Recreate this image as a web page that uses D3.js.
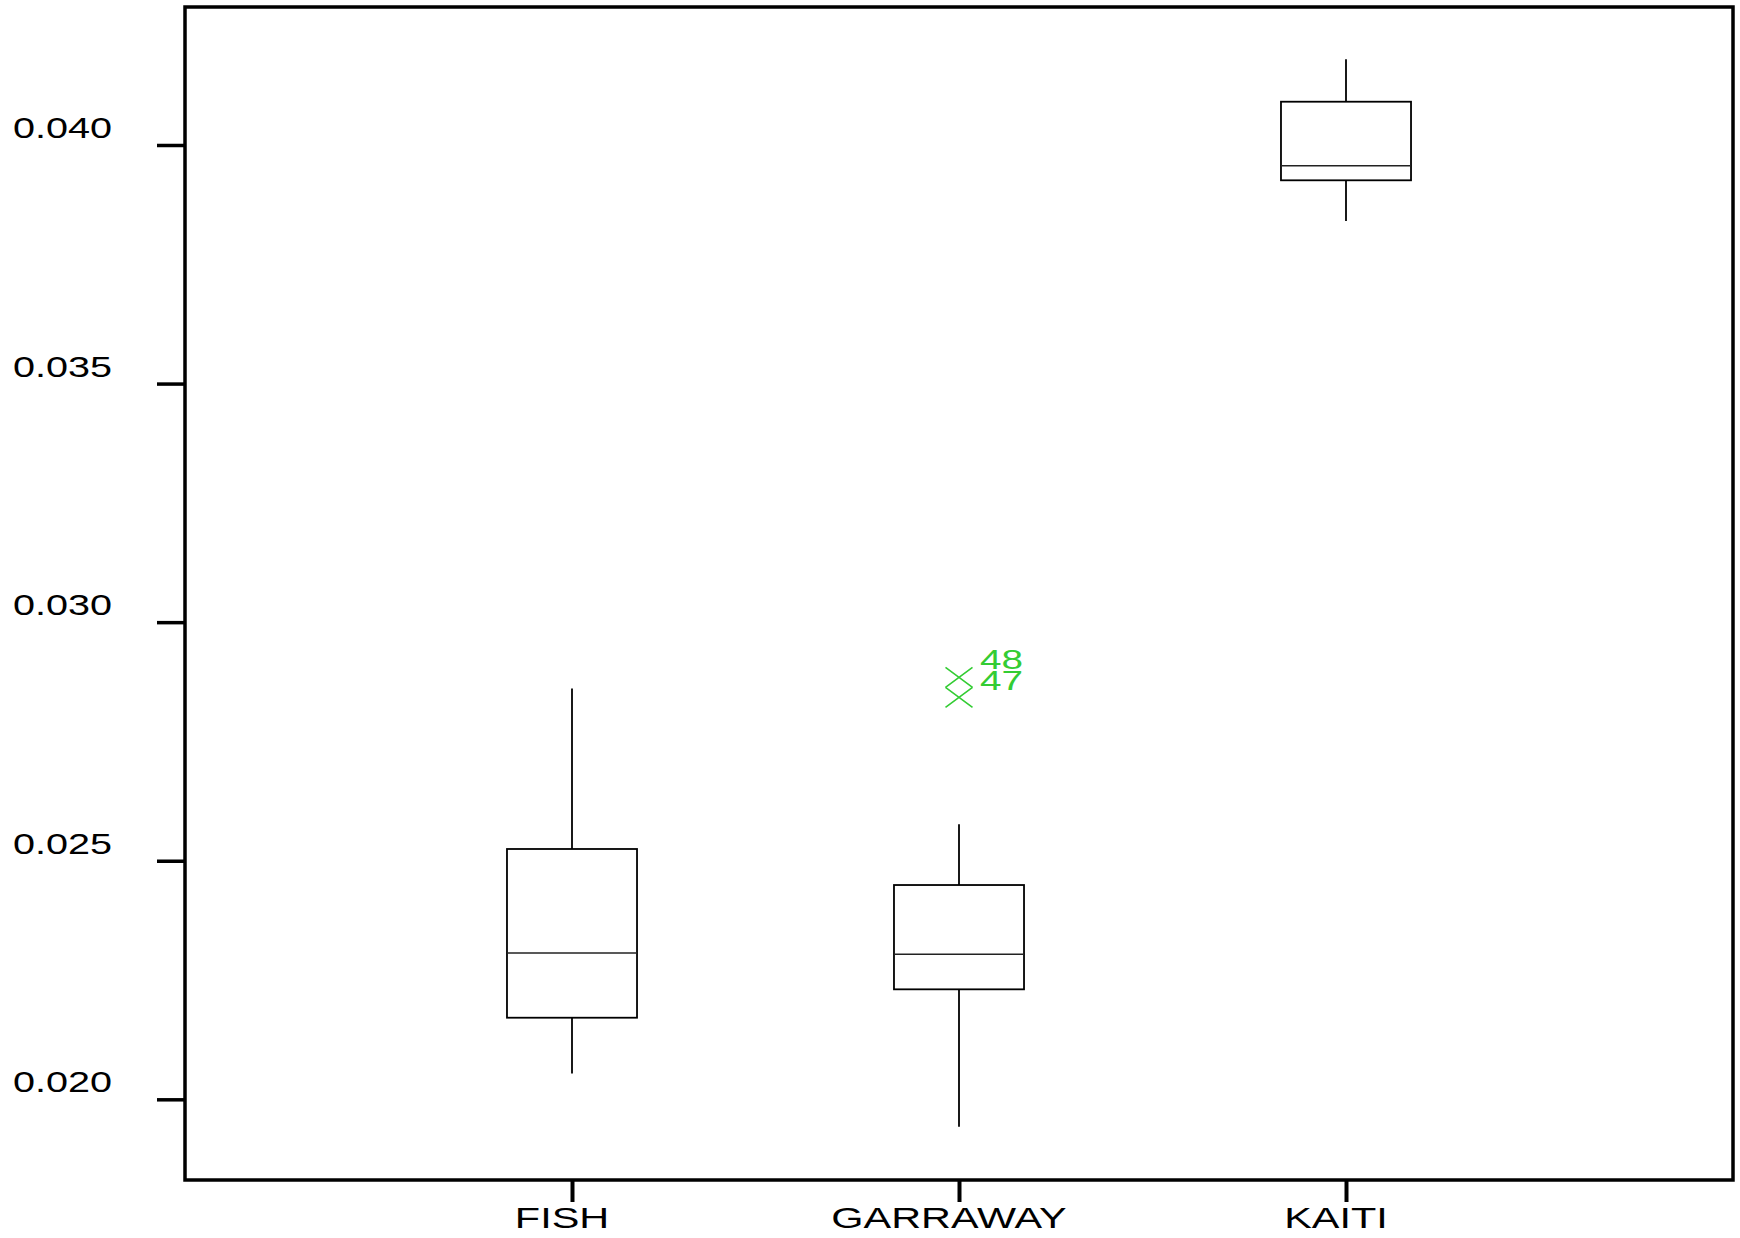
<!DOCTYPE html>
<html>
<head>
<meta charset="utf-8">
<script src="https://cdn.jsdelivr.net/npm/d3@7/dist/d3.min.js"></script>
<style>
  html, body { margin: 0; padding: 0; background: #fff; }
  svg { display: block; }
  text { font-family: "Liberation Sans", Arial, sans-serif; }
</style>
</head>
<body>
<script>
const categories = ["FISH", "GARRAWAY", "KAITI"];
const whiskerLow  = [0.02054, 0.019426, 0.038407];
const q1          = [0.02171, 0.022305, 0.03926];
const median      = [0.023066, 0.023039, 0.039566];
const q3          = [0.025246, 0.024491, 0.040907];
const whiskerHigh = [0.02861, 0.025763, 0.041796];
const outlierCategory = ["GARRAWAY", "GARRAWAY"];
const outlierValues   = [0.028844, 0.028425];
const outlierLabels   = ["48", "47"];
const yTicks = [0.020, 0.025, 0.030, 0.035, 0.040];
const yDomain = [0.018309, 0.042892];

const W = 1740, H = 1238;
const plotLeft = 185, plotRight = 1733, plotTop = 7, plotBottom = 1180;
const green = "#33cc33";
const stretchY = 1.32;
const stretchX = 1.38;

const svg = d3.select("body").append("svg").attr("width", W).attr("height", H);

const x = d3.scalePoint().domain(categories).range([plotLeft, plotRight]).padding(1);
const y = d3.scaleLinear().domain(yDomain).range([plotBottom, plotTop]);

// Frame
svg.append("rect")
  .attr("x", plotLeft).attr("y", plotTop)
  .attr("width", plotRight - plotLeft).attr("height", plotBottom - plotTop)
  .attr("fill", "none").attr("stroke", "#000").attr("stroke-width", 3.5);

// Y axis ticks
const yAxis = svg.append("g").attr("transform", `translate(${plotLeft},0)`)
  .call(d3.axisLeft(y).tickValues(yTicks).tickSize(28).tickFormat(""));
yAxis.select(".domain").remove();
yAxis.selectAll(".tick line").attr("stroke", "#000").attr("stroke-width", 3.5);

const fmt = d3.format(".3f");
svg.append("g").selectAll("g").data(yTicks).join("g")
  .attr("transform", d => `translate(112,${y(d) - 7}) scale(${stretchY},1)`)
  .append("text")
  .attr("text-anchor", "end")
  .attr("font-size", 30)
  .attr("fill", "#000")
  .text(d => fmt(d));

// X axis ticks
const xAxis = svg.append("g").attr("transform", `translate(0,${plotBottom})`)
  .call(d3.axisBottom(x).tickSize(22).tickFormat(""));
xAxis.select(".domain").remove();
xAxis.selectAll(".tick line").attr("stroke", "#000").attr("stroke-width", 4);

svg.append("g").selectAll("g").data(categories).join("g")
  .attr("transform", d => `translate(${x(d) - 10},1228) scale(${stretchX},1)`)
  .append("text")
  .attr("text-anchor", "middle")
  .attr("font-size", 30)
  .attr("fill", "#000")
  .text(d => d);

// Boxes
const bw = x.step() * 0.336;
const boxes = svg.append("g").selectAll("g").data(categories).join("g");
boxes.append("line")
  .attr("x1", d => x(d)).attr("x2", d => x(d))
  .attr("y1", (d, i) => y(whiskerHigh[i])).attr("y2", (d, i) => y(q3[i]))
  .attr("stroke", "#000").attr("stroke-width", 1.8);
boxes.append("line")
  .attr("x1", d => x(d)).attr("x2", d => x(d))
  .attr("y1", (d, i) => y(q1[i])).attr("y2", (d, i) => y(whiskerLow[i]))
  .attr("stroke", "#000").attr("stroke-width", 1.8);
boxes.append("rect")
  .attr("x", d => x(d) - bw / 2).attr("width", bw)
  .attr("y", (d, i) => y(q3[i])).attr("height", (d, i) => y(q1[i]) - y(q3[i]))
  .attr("fill", "none").attr("stroke", "#000").attr("stroke-width", 1.8);
boxes.append("line")
  .attr("x1", d => x(d) - bw / 2).attr("x2", d => x(d) + bw / 2)
  .attr("y1", (d, i) => y(median[i])).attr("y2", (d, i) => y(median[i]))
  .attr("stroke", "#222").attr("stroke-width", 1.6);

// Outliers
const hx = 13.5, hy = 10;
const outs = svg.append("g").selectAll("g").data(outlierValues).join("g");
outs.append("path")
  .attr("d", (d, i) => {
    const cx = x(outlierCategory[i]), cy = y(d);
    return `M${cx - hx},${cy - hy}L${cx + hx},${cy + hy}M${cx - hx},${cy + hy}L${cx + hx},${cy - hy}`;
  })
  .attr("stroke", green).attr("stroke-width", 1.6).attr("fill", "none");
outs.append("g")
  .attr("transform", (d, i) => `translate(${x(outlierCategory[i]) + 21},${y(d) - (i === 0 ? 8 : 7)}) scale(1.38,1)`)
  .append("text")
  .attr("font-size", 28)
  .attr("fill", green)
  .text((d, i) => outlierLabels[i]);
</script>
</body>
</html>
